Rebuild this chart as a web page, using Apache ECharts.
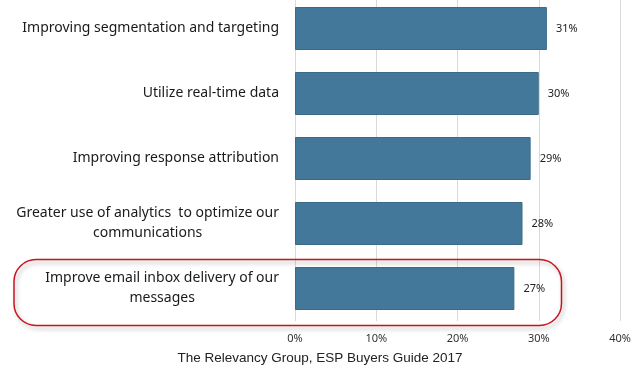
<!DOCTYPE html>
<html>
<head>
<meta charset="utf-8">
<script src="https://cdn.jsdelivr.net/npm/echarts@6/dist/echarts.min.js"></script>
<style>
  html, body { margin: 0; padding: 0; background: #fff; }
  #chart { width: 640px; height: 377px; }
</style>
</head>
<body>
<div id="chart"></div>
<script>
// categories top to bottom
var categories = [
  'Improving segmentation and targeting',
  'Utilize real-time data',
  'Improving response attribution',
  'Greater use of analytics  to optimize our\ncommunications',
  'Improve email inbox delivery of our\nmessages'
]
var values = [31, 30, 29, 28, 27] // percent
var xTicks = [0, 10, 20, 30, 40]
var caption = 'The Relevancy Group, ESP Buyers Guide 2017'
var highlightIndex = 4 // the circled one

var chart = echarts.init(document.getElementById('chart'))

chart.setOption({
  animation: false,
  backgroundColor: '#fff',
  title: {
    text: caption,
    left: 'center',
    top: 346,
    textStyle: {
      fontFamily: 'Liberation Sans',
      fontSize: 13.5,
      fontWeight: 'normal',
      color: '#222'
    }
  },
  grid: {
    left: 295,
    right: 20,
    top: -4,
    height: 325,
    containLabel: false,
    outerBoundsMode: 'none'
  },
  xAxis: {
    type: 'value',
    min: xTicks[0],
    max: xTicks[xTicks.length - 1],
    interval: 10,
    axisLine: { show: false },
    axisTick: { show: false },
    splitLine: { show: true, lineStyle: { color: '#d9d9d9', width: 1 } },
    axisLabel: {
      margin: 12,
      fontFamily: 'Noto Sans',
      fontSize: 11,
      color: '#333',
      formatter: '{value}%'
    }
  },
  yAxis: {
    type: 'category',
    inverse: true,
    data: categories,
    axisLine: { show: false },
    axisTick: { show: false },
    axisLabel: {
      margin: 16,
      formatter: function(v) {
        return v.split('\n').map(function(s) { return '{c|' + s + '}' }).join('\n')
      },
      rich: {
        c: {
          align: 'center',
          fontFamily: 'Noto Sans',
          fontSize: 14,
          lineHeight: 20,
          color: '#1a1a1a'
        }
      }
    }
  },
  series: [{
    type: 'bar',
    data: values,
    barWidth: 43,
    itemStyle: {
      color: '#44789a',
      borderColor: '#3b6b89',
      borderWidth: 1
    },
    label: {
      show: true,
      position: 'right',
      distance: 9,
      formatter: '{c}%',
      fontFamily: 'Noto Sans',
      fontSize: 11,
      color: '#222'
    }
  }]
})

// red rounded frame round the highlighted category, placed from the axes
var cy = chart.convertToPixel({ yAxisIndex: 0 }, highlightIndex)
var xr = chart.convertToPixel({ xAxisIndex: 0 }, 32.8)
chart.setOption({
  graphic: [{
    type: 'rect',
    shape: { x: 14, y: cy - 29, width: xr - 14, height: 66, r: 22 },
    style: {
      fill: 'none',
      stroke: '#c8141e',
      lineWidth: 1.5,
      shadowBlur: 4,
      shadowOffsetX: 2,
      shadowOffsetY: 3,
      shadowColor: 'rgba(0,0,0,0.3)'
    },
    z: 100
  }]
})
</script>
</body>
</html>
